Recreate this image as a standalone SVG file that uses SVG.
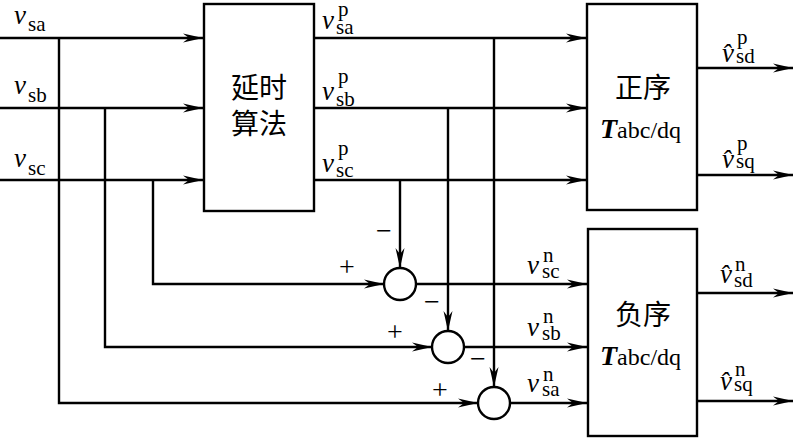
<svg xmlns="http://www.w3.org/2000/svg" width="795" height="438" viewBox="0 0 795 438">
<style>
.ln{stroke:#000;stroke-width:2.4;fill:none}
.box{fill:#fff;stroke:#000;stroke-width:2.4}
.v{font-family:"Liberation Serif",serif;font-style:italic;font-size:27px}
.s{font-family:"Liberation Serif",serif;font-size:21px}
.sg{font-family:"Liberation Serif",serif;font-size:28px;text-anchor:middle}
.cn{font-family:"Noto Sans CJK SC",sans-serif;font-size:28px;text-anchor:middle}
.T{font-family:"Liberation Serif",serif;font-style:italic;font-weight:bold;font-size:28px}
.ab{font-family:"Liberation Serif",serif;font-size:24px;font-style:normal;font-weight:normal}
</style>
<defs>
<marker id="ah" markerUnits="userSpaceOnUse" viewBox="-20 -5 21 10" refX="0" refY="0" markerWidth="21" markerHeight="10" orient="auto">
<path d="M-20,-4.5 L0,0 L-20,4.5 L-14,0 z" fill="#000"/>
</marker>
</defs>
<rect width="795" height="438" fill="#fff"/>
<g id="connectors">
<path class="ln" d="M0,38 H203" marker-end="url(#ah)"/>
<path class="ln" d="M0,108 H203" marker-end="url(#ah)"/>
<path class="ln" d="M0,180 H203" marker-end="url(#ah)"/>
<path class="ln" d="M314,38 H586" marker-end="url(#ah)"/>
<path class="ln" d="M314,108 H586" marker-end="url(#ah)"/>
<path class="ln" d="M314,180 H586" marker-end="url(#ah)"/>
<path class="ln" d="M697,68 H793" marker-end="url(#ah)"/>
<path class="ln" d="M697,175 H793" marker-end="url(#ah)"/>
<path class="ln" d="M697,293 H793" marker-end="url(#ah)"/>
<path class="ln" d="M697,401 H793" marker-end="url(#ah)"/>
<path class="ln" d="M59,38 V403 H478" marker-end="url(#ah)"/>
<path class="ln" d="M105,108 V347 H432" marker-end="url(#ah)"/>
<path class="ln" d="M153,180 V284 H384" marker-end="url(#ah)"/>
<path class="ln" d="M400,180 V268" marker-end="url(#ah)"/>
<path class="ln" d="M448,108 V331" marker-end="url(#ah)"/>
<path class="ln" d="M494,38 V387" marker-end="url(#ah)"/>
<path class="ln" d="M416,284 H587" marker-end="url(#ah)"/>
<path class="ln" d="M464,347 H587" marker-end="url(#ah)"/>
<path class="ln" d="M510,403 H587" marker-end="url(#ah)"/>
</g>
<g id="delay">
<rect class="box" x="204" y="4" width="110" height="207"/>
<text class="cn" x="259" y="98">延时</text>
<text class="cn" x="259" y="134">算法</text>
</g>
<g id="pos">
<rect class="box" x="587" y="4" width="110" height="206"/>
<text class="cn" x="643" y="98">正序</text>
<text class="T" x="600" y="138">T<tspan class="ab">abc/dq</tspan></text>
</g>
<g id="neg">
<rect class="box" x="588" y="229" width="109" height="207"/>
<text class="cn" x="643" y="325">负序</text>
<text class="T" x="600" y="365">T<tspan class="ab">abc/dq</tspan></text>
</g>
<g id="sum_c">
<circle class="ln" cx="400" cy="284" r="16"/>
<text class="sg" x="384" y="240">−</text>
<text class="sg" x="347" y="276">+</text>
</g>
<g id="sum_b">
<circle class="ln" cx="448" cy="347" r="16"/>
<text class="sg" x="432" y="311">−</text>
<text class="sg" x="395" y="341">+</text>
</g>
<g id="sum_a">
<circle class="ln" cx="494" cy="403" r="16"/>
<text class="sg" x="478" y="368">−</text>
<text class="sg" x="440" y="399">+</text>
</g>
<g id="labels">
<text class="v" x="14" y="24">v</text><text class="s" x="28" y="31">sa</text>
<text class="v" x="14" y="94">v</text><text class="s" x="28" y="102">sb</text>
<text class="v" x="14" y="167">v</text><text class="s" x="28" y="175">sc</text>
<text class="v" x="322" y="29">v</text><text class="s" x="336" y="34">sa</text><text class="s" x="338" y="16">p</text>
<text class="v" x="322" y="100">v</text><text class="s" x="336" y="106">sb</text><text class="s" x="338" y="83">p</text>
<text class="v" x="322" y="172">v</text><text class="s" x="336" y="177">sc</text><text class="s" x="338" y="155">p</text>
<text class="v" x="527" y="274">v</text><text class="s" x="542" y="278">sc</text><text class="s" x="543" y="262">n</text>
<text class="v" x="527" y="336">v</text><text class="s" x="542" y="340">sb</text><text class="s" x="543" y="323">n</text>
<text class="v" x="527" y="392">v</text><text class="s" x="542" y="396">sa</text><text class="s" x="543" y="381">n</text>
<text class="v" x="722" y="62">v̂</text><text class="s" x="736" y="63">sd</text><text class="s" x="737" y="44">p</text>
<text class="v" x="722" y="168">v̂</text><text class="s" x="736" y="168">sq</text><text class="s" x="737" y="150">p</text>
<text class="v" x="720" y="283">v̂</text><text class="s" x="734" y="287">sd</text><text class="s" x="735" y="271">n</text>
<text class="v" x="720" y="390">v̂</text><text class="s" x="734" y="391">sq</text><text class="s" x="735" y="376">n</text>
</g>
</svg>
